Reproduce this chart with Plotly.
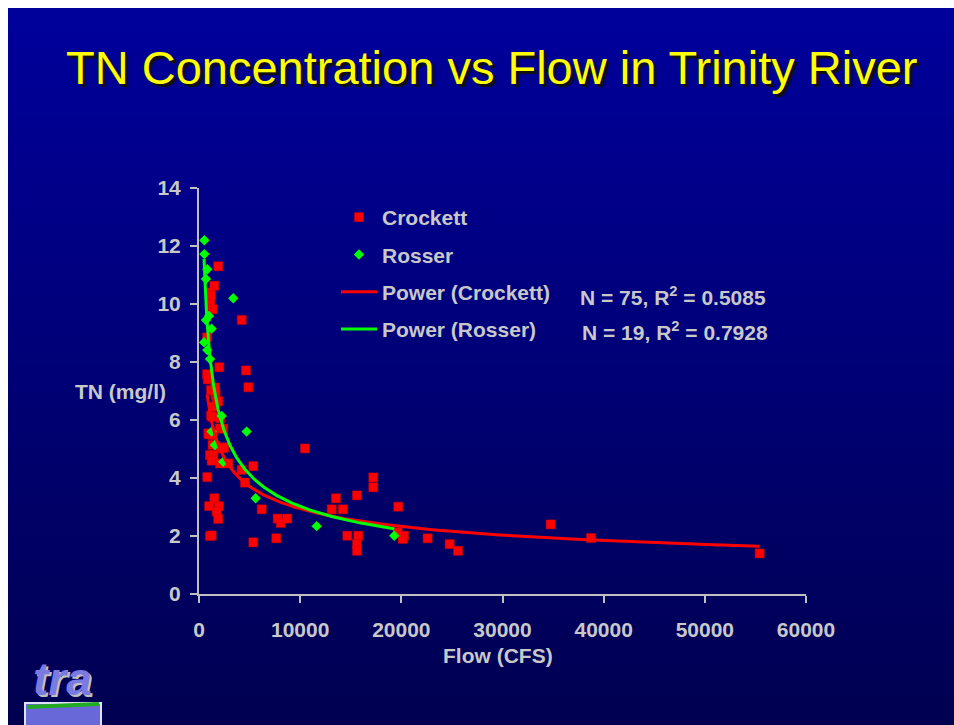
import base64
import numpy as np
import plotly.graph_objects as go

# ---------------- data ----------------
crockett_flow = [1900, 1510, 1090, 1120, 1350, 4220, 800, 2010, 4650, 4880,
                 800, 870, 1190, 1580, 1650, 1750, 1420, 1190, 1350, 1900,
                 920, 1370, 2070, 1340, 2500, 2060, 1090, 1420, 1250, 2070,
                 2900, 4220, 5370, 4550, 820, 1520, 1000, 1980, 1750, 1900,
                 1090, 1250, 5370, 6200, 10480, 7780, 8080, 8730, 7640, 13540,
                 13120, 14230, 15620, 17230, 17230, 19700, 14660, 15750, 15620, 15620,
                 20260, 20130, 19640, 22600, 24780, 25600, 34760, 38750, 55420, 1600,
                 2100, 2400, 2400, 1200, 1000]
crockett_tn = [11.3, 10.63, 10.4, 10.0, 9.82, 9.45, 8.85, 7.82, 7.71, 7.13,
               7.58, 7.4, 7.03, 7.12, 6.86, 6.63, 6.46, 6.15, 6.11, 6.65,
               5.54, 5.48, 5.71, 5.14, 5.06, 5.02, 4.79, 4.79, 4.6, 4.5,
               4.5, 4.28, 4.41, 3.84, 4.03, 3.3, 3.03, 3.03, 2.84, 2.59,
               2.0, 2.02, 1.78, 2.92, 5.02, 2.6, 2.45, 2.6, 1.92, 3.3,
               2.92, 2.92, 3.4, 4.02, 3.68, 3.01, 2.01, 2.01, 1.72, 1.49,
               2.01, 1.9, 2.13, 1.92, 1.72, 1.49, 2.4, 1.93, 1.4, 7.0,
               6.06, 5.7, 5.03, 10.3, 5.5]

rosser_flow = [530, 530, 820, 690, 3390, 990, 690, 1250, 500, 820,
               1090, 2240, 4710, 1250, 1580, 2400, 5600, 11630, 19300]
rosser_tn = [12.2, 11.72, 11.2, 10.86, 10.2, 9.59, 9.45, 9.15, 8.68, 8.41,
             8.1, 6.14, 5.6, 5.6, 5.14, 4.56, 3.3, 2.34, 2.01]

x_ticks = [0, 10000, 20000, 30000, 40000, 50000, 60000]
y_ticks = [0, 2, 4, 6, 8, 10, 12, 14]

title_text = "TN Concentration vs Flow in Trinity River"
stats_crockett = "N = 75, R<sup>2</sup> = 0.5085"
stats_rosser = "N = 19, R<sup>2</sup> = 0.7928"


def power_fit(x, y):
    x = np.asarray(x, float)
    y = np.asarray(y, float)
    b, lna = np.polyfit(np.log(x), np.log(y), 1)
    xs = np.geomspace(x.min(), x.max(), 300)
    return xs, np.exp(lna) * xs ** b


cx, cy = power_fit(crockett_flow, crockett_tn)
rx, ry = power_fit(rosser_flow, rosser_tn)

# ---------------- layout geometry (screen pixels, body margin removed) ----------------
W, H = 954, 725
L, R, T, B = 199, 806, 188, 594   # plot area on screen
EDGE = 8                          # white border at top/left of the slide


def px(xs):
    return (xs - L) / (R - L)


def py(ys):
    return (B - ys) / (B - T)


TXT = "#c8c8c8"
FONT = "Liberation Sans, Arial, sans-serif"

fig = go.Figure()
fig.add_trace(go.Scatter(x=crockett_flow, y=crockett_tn, mode="markers", name="Crockett",
                         legendgroup="a",
                         marker=dict(symbol="square", size=9, color="#ff0000",
                                     line=dict(color="#d00000", width=0.5))))
fig.add_trace(go.Scatter(x=rosser_flow, y=rosser_tn, mode="markers", name="Rosser",
                         legendgroup="b",
                         marker=dict(symbol="diamond", size=8, color="#00ff00",
                                     line=dict(width=0))))
fig.add_trace(go.Scatter(x=cx, y=cy, mode="lines", name="Power (Crockett)",
                         legendgroup="c", line=dict(color="#ff0000", width=3)))
fig.add_trace(go.Scatter(x=rx, y=ry, mode="lines", name="Power (Rosser)",
                         legendgroup="d", line=dict(color="#00ff00", width=3)))

# background gradient as an SVG image
svg = ('<svg xmlns="http://www.w3.org/2000/svg" width="100" height="100" preserveAspectRatio="none">'
       '<defs><linearGradient id="g" x1="0" y1="0" x2="0" y2="1">'
       '<stop offset="0" stop-color="rgb(0,0,156)"/>'
       '<stop offset="0.5" stop-color="rgb(0,0,118)"/>'
       '<stop offset="1" stop-color="rgb(0,0,80)"/>'
       '</linearGradient></defs><rect width="100" height="100" fill="url(#g)"/></svg>')
bg_src = "data:image/svg+xml;base64," + base64.b64encode(svg.encode()).decode()

images = [dict(source=bg_src, xref="paper", yref="paper",
               x=px(EDGE), y=py(EDGE), sizex=px(W + 4) - px(EDGE), sizey=py(EDGE) - py(H + 4),
               xanchor="left", yanchor="top", sizing="stretch", layer="below")]

# simple logo
shapes = [
    dict(type="rect", xref="paper", yref="paper", layer="above",
         x0=px(25), x1=px(101), y0=py(727), y1=py(703),
         line=dict(color="#e0e0ff", width=2), fillcolor="#6868d8"),
    dict(type="line", xref="paper", yref="paper", layer="above",
         x0=px(27), x1=px(99), y0=py(707), y1=py(704),
         line=dict(color="#22aa22", width=4)),
]

annotations = [
    dict(text=title_text, x=px(491), y=py(68), xref="paper", yref="paper",
         showarrow=False, xanchor="center", yanchor="middle",
         font=dict(family="Liberation Sans Narrow, Arial Narrow, Liberation Sans, Arial, sans-serif",
                   size=47, color="#ffff00", shadow="3px 3px 1px #101010")),
    dict(text="TN (mg/l)", x=px(120), y=py(391), xref="paper", yref="paper",
         showarrow=False, xanchor="center", yanchor="middle",
         font=dict(family=FONT, size=21, color=TXT, weight="bold")),
    dict(text="Flow (CFS)", x=px(498), y=py(655), xref="paper", yref="paper",
         showarrow=False, xanchor="center", yanchor="middle",
         font=dict(family=FONT, size=21, color=TXT, weight="bold")),
    dict(text=stats_crockett, x=px(578), y=py(296), xref="paper", yref="paper",
         showarrow=False, xanchor="left", yanchor="middle",
         font=dict(family=FONT, size=21, color=TXT, weight="bold")),
    dict(text=stats_rosser, x=px(580), y=py(331), xref="paper", yref="paper",
         showarrow=False, xanchor="left", yanchor="middle",
         font=dict(family=FONT, size=21, color=TXT, weight="bold")),
    dict(text="<i>tra</i>", x=px(62), y=py(679), xref="paper", yref="paper",
         showarrow=False, xanchor="center", yanchor="middle",
         font=dict(family=FONT, size=46, color="#7a7ae0", weight="bold",
                   shadow="2px 2px 0px #c0c0c0")),
]

axis_common = dict(showline=True, linecolor="#c0c0c0", linewidth=2, ticks="outside",
                   ticklen=7, tickwidth=2, tickcolor="#c0c0c0", showgrid=False,
                   zeroline=False, mirror=False,
                   tickfont=dict(family=FONT, size=21, color=TXT, weight="bold"))

fig.update_layout(
    width=W, height=H,
    margin=dict(l=L, r=W - R, t=T, b=H - B, pad=0),
    paper_bgcolor="white",
    plot_bgcolor="rgba(0,0,0,0)",
    xaxis=dict(range=[0, 60000], tickvals=x_ticks, tickformat="d",
               ticklabelstandoff=9, **axis_common),
    yaxis=dict(range=[0, 14], tickvals=y_ticks, ticklabelstandoff=5, **axis_common),
    images=images,
    shapes=shapes,
    annotations=annotations,
    showlegend=True,
    legend=dict(x=px(336), y=py(197), xanchor="left", yanchor="top",
                bgcolor="rgba(0,0,0,0)", borderwidth=0,
                traceorder="grouped", tracegroupgap=7, itemwidth=36,
                font=dict(family=FONT, size=21, color=TXT, weight="bold")),
)

fig.write_html("out.html",
               config={"displayModeBar": False},
               post_script="document.body.style.margin='0';"
                           "document.documentElement.style.overflow='hidden';")
